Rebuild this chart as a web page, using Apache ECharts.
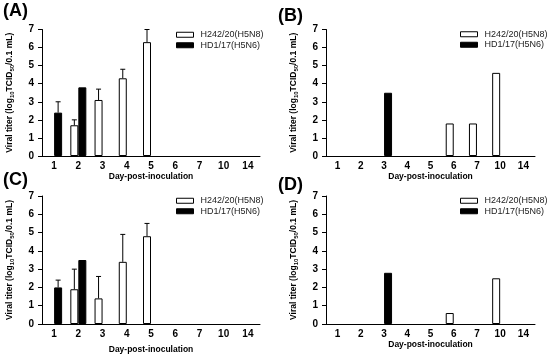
<!DOCTYPE html>
<html><head><meta charset="utf-8">
<script src="https://cdn.jsdelivr.net/npm/echarts@6/dist/echarts.min.js"></script>
<style>html,body{margin:0;padding:0;background:#fff}#c{width:550px;height:359px}</style>
</head><body><div id="c"></div>
<script>
const days = ['1','2','3','4','5','6','7','10','14'];
const seriesNames = ['H242/20(H5N8)', 'HD1/17(H5N6)'];
const panelLabels = ['(A)', '(B)', '(C)', '(D)'];
const yTicks = [0,1,2,3,4,5,6,7];

// Panel A
const aWhite   = [0, 1.7, 3.1, 4.3, 6.3, 0, 0, 0, 0];
const aWhiteSD = [0, 0.3, 0.6, 0.5, 0.7, 0, 0, 0, 0];
const aBlack   = [2.4, 3.8, 0, 0, 0, 0, 0, 0, 0];
const aBlackSD = [0.6, 0, 0, 0, 0, 0, 0, 0, 0];
// Panel B
const bWhite   = [0, 0, 0, 0, 0, 1.8, 1.8, 4.6, 0];
const bWhiteSD = [0, 0, 0, 0, 0, 0, 0, 0, 0];
const bBlack   = [0, 0, 3.5, 0, 0, 0, 0, 0, 0];
const bBlackSD = [0, 0, 0, 0, 0, 0, 0, 0, 0];
// Panel C
const cWhite   = [0, 1.9, 1.4, 3.4, 4.8, 0, 0, 0, 0];
const cWhiteSD = [0, 1.1, 1.2, 1.5, 0.7, 0, 0, 0, 0];
const cBlack   = [2.0, 3.5, 0, 0, 0, 0, 0, 0, 0];
const cBlackSD = [0.4, 0, 0, 0, 0, 0, 0, 0, 0];
// Panel D
const dWhite   = [0, 0, 0, 0, 0, 0.6, 0, 2.5, 0];
const dWhiteSD = [0, 0, 0, 0, 0, 0, 0, 0, 0];
const dBlack   = [0, 0, 2.8, 0, 0, 0, 0, 0, 0];
const dBlackSD = [0, 0, 0, 0, 0, 0, 0, 0, 0];

const panels = [
  {white:aWhite, whiteSD:aWhiteSD, black:aBlack, blackSD:aBlackSD},
  {white:bWhite, whiteSD:bWhiteSD, black:bBlack, blackSD:bBlackSD},
  {white:cWhite, whiteSD:cWhiteSD, black:cBlack, blackSD:cBlackSD},
  {white:dWhite, whiteSD:dWhiteSD, black:dBlack, blackSD:dBlackSD}
];

const FONT = '"Liberation Sans", Arial, sans-serif';
const grids = [
  {left:42, top:29.5, width:218, height:126.5},
  {left:326, top:29.5, width:209, height:126.5},
  {left:42, top:196, width:218, height:128},
  {left:326, top:196, width:209, height:128}
];
const xNameGaps = [16, 15.5, 21.5, 15.5];
const labelPos = [{left:3, top:2}, {left:278, top:7}, {left:3, top:171}, {left:278, top:176}];
const legendPos = [{left:176, top:29.5}, {left:460, top:29}, {left:176, top:195.5}, {left:460, top:195.5}];
const BW = 8;
// zero titer: no visible bar
const hideZero = arr => arr.map(v => v === 0 ? null : v);

const option = {
  animation:false,
  backgroundColor:'#fff',
  title: panelLabels.map((t,i)=>({text:t, left:labelPos[i].left, top:labelPos[i].top, padding:0,
    textStyle:{fontFamily:FONT, fontWeight:'bold', fontSize:18, color:'#000'}})),
  grid: grids,
  legend: grids.map((g,i)=>({
    orient:'vertical', left:legendPos[i].left, top:legendPos[i].top, padding:0,
    itemWidth:17, itemHeight:5, itemGap:0, icon:'rect',
    textStyle:{fontFamily:FONT, fontSize:9, color:'#222', lineHeight:10.5, padding:[0,0,0,2]},
    data:[
      {name:seriesNames[0], itemStyle:{color:'#fff', borderColor:'#000', borderWidth:1}},
      {name:seriesNames[1], itemStyle:{color:'#000', borderColor:'#000', borderWidth:1}}
    ],
    selectedMode:false
  })),
  xAxis: grids.map((g,i)=>({
    type:'category', gridIndex:i, data:days,
    name:'Day-post-inoculation', nameLocation:'middle', nameGap:xNameGaps[i],
    nameTextStyle:{fontFamily:FONT, fontWeight:'bold', fontSize:8.5, color:'#000'},
    axisLine:{lineStyle:{color:'#000', width:1}},
    axisTick:{alignWithLabel:true, length:3, lineStyle:{color:'#000'}},
    axisLabel:{fontFamily:FONT, fontWeight:'bold', fontSize:10, color:'#000', margin:5},
    splitLine:{show:false}
  })),
  yAxis: grids.map((g,i)=>({
    type:'value', gridIndex:i, min:0, max:7, interval:1,
    name:'{a|Viral titer (log}{s|10}{a|TCID}{s|50}{a|/0.1 mL)}',
    nameLocation:'middle', nameGap:27, nameRotate:90,
    nameTextStyle:{rich:{
      a:{fontFamily:FONT, fontWeight:'bold', fontSize:8.5, color:'#000', lineHeight:11},
      s:{fontFamily:FONT, fontWeight:'bold', fontSize:6, color:'#000', lineHeight:6, verticalAlign:'bottom'}
    }},
    axisLine:{show:true, lineStyle:{color:'#000', width:1}},
    axisTick:{show:true, length:4, lineStyle:{color:'#000'}},
    axisLabel:{fontFamily:FONT, fontWeight:'bold', fontSize:10, color:'#000', margin:8,
      formatter:v=>yTicks.includes(v)?String(v):''},
    splitLine:{show:false}
  })),
  series: []
};

panels.forEach((p,i)=>{
  option.series.push({
    type:'bar', name:seriesNames[0], xAxisIndex:i, yAxisIndex:i, data:hideZero(p.white),
    barWidth:BW, barGap:'0%',
    itemStyle:{color:'#fff', borderColor:'#000', borderWidth:1}
  });
  option.series.push({
    type:'bar', name:seriesNames[1], xAxisIndex:i, yAxisIndex:i, data:hideZero(p.black),
    barWidth:BW, barGap:'0%',
    itemStyle:{color:'#000', borderColor:'#000', borderWidth:1}
  });
  const errData = [];
  p.white.forEach((v,k)=>{ if(p.whiteSD[k]>0) errData.push([k, v, v+p.whiteSD[k], -1]); });
  p.black.forEach((v,k)=>{ if(p.blackSD[k]>0) errData.push([k, v, v+p.blackSD[k], 1]); });
  option.series.push({
    type:'custom', xAxisIndex:i, yAxisIndex:i, data:errData, z:3,
    renderItem:(params, api)=>{
      const k = api.value(0);
      const lo = api.coord([k, api.value(1)]);
      const hi = api.coord([k, api.value(2)]);
      const x = lo[0] + api.value(3)*BW/2;
      const cap = 2.5;
      return {type:'group', children:[
        {type:'line', shape:{x1:x, y1:lo[1], x2:x, y2:hi[1]}, style:{stroke:'#000', lineWidth:1}},
        {type:'line', shape:{x1:x-cap, y1:hi[1], x2:x+cap, y2:hi[1]}, style:{stroke:'#000', lineWidth:1}}
      ]};
    }
  });
});

const chart = echarts.init(document.getElementById('c'), null, {renderer:'canvas'});
chart.setOption(option);
</script></body></html>
